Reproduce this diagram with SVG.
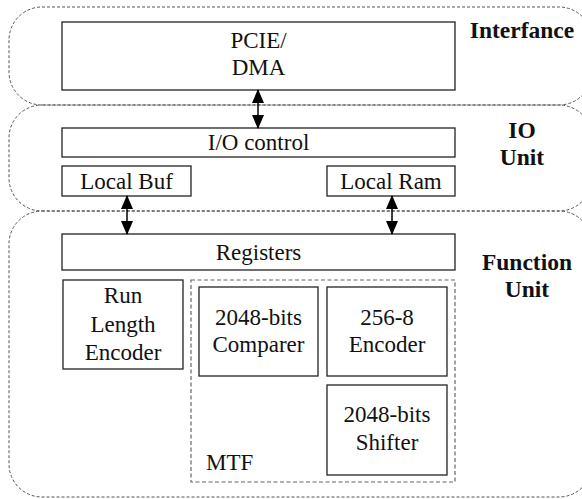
<svg xmlns="http://www.w3.org/2000/svg" width="582" height="499" viewBox="0 0 582 499">
<defs>
<style>
.region{fill:none;stroke:#555;stroke-width:1;stroke-dasharray:3,2}
.box{fill:#fff;stroke:#222;stroke-width:1.3}
.mtf{fill:none;stroke:#666;stroke-width:1.2;stroke-dasharray:4,2.5}
.t{font-size:23px;fill:#111;text-anchor:middle}
.lbl{font-size:23.5px;font-weight:bold;fill:#111;text-anchor:middle}
.conn{stroke:#000;stroke-width:1.5;fill:none;marker-start:url(#ah);marker-end:url(#ah)}
</style>
<marker id="ah" viewBox="0 0 14 12" refX="13" refY="6" markerWidth="14" markerHeight="12" markerUnits="userSpaceOnUse" orient="auto-start-reverse">
<path d="M0,0 L14,6 L0,12 Z" fill="#000"/>
</marker>
</defs>
<g id="regions">
<rect id="interface-region" class="region" x="9" y="7" width="583" height="98" rx="33" ry="33"/>
<rect id="io-region" class="region" x="9" y="105" width="583" height="106" rx="33" ry="33"/>
<rect id="function-region" class="region" x="9" y="211" width="583" height="286" rx="33" ry="33"/>
</g>
<g font-family="'Liberation Serif', 'Times New Roman', 'DejaVu Serif', serif">
<g id="region-labels">
<text class="lbl" x="522" y="38">Interfance</text>
<text class="lbl" x="522" y="138">IO</text>
<text class="lbl" x="522" y="165">Unit</text>
<text class="lbl" x="527" y="270">Function</text>
<text class="lbl" x="527" y="297">Unit</text>
</g>
<g id="pcie">
<rect class="box" x="62" y="22" width="393" height="68"/>
<text class="t" x="258.5" y="48">PCIE/</text>
<text class="t" x="258.5" y="75">DMA</text>
</g>
<g id="io-control">
<rect class="box" x="62" y="128" width="393" height="29"/>
<text class="t" x="258.5" y="150">I/O control</text>
</g>
<g id="local-buf">
<rect class="box" x="62" y="166" width="129" height="30"/>
<text class="t" x="126.5" y="189">Local Buf</text>
</g>
<g id="local-ram">
<rect class="box" x="327" y="166" width="128" height="30"/>
<text class="t" x="391" y="189">Local Ram</text>
</g>
<g id="registers">
<rect class="box" x="62" y="234" width="393" height="36"/>
<text class="t" x="258.5" y="260">Registers</text>
</g>
<g id="run-length-encoder">
<rect class="box" x="63" y="280" width="120" height="89"/>
<text class="t" x="123" y="303">Run</text>
<text class="t" x="123" y="332">Length</text>
<text class="t" x="123" y="360">Encoder</text>
</g>
<g id="mtf">
<rect class="mtf" x="191" y="280" width="264" height="202"/>
<text class="t" x="206" y="470" style="text-anchor:start">MTF</text>
</g>
<g id="comparer">
<rect class="box" x="199" y="287" width="119" height="89"/>
<text class="t" x="258.5" y="325">2048-bits</text>
<text class="t" x="258.5" y="352">Comparer</text>
</g>
<g id="encoder-256-8">
<rect class="box" x="327" y="287" width="120" height="89"/>
<text class="t" x="387" y="325">256-8</text>
<text class="t" x="387" y="352">Encoder</text>
</g>
<g id="shifter">
<rect class="box" x="327" y="385" width="120" height="90"/>
<text class="t" x="387" y="422">2048-bits</text>
<text class="t" x="387" y="450">Shifter</text>
</g>
</g>
<g id="connectors">
<line class="conn" x1="258" y1="90" x2="258" y2="128"/>
<line class="conn" x1="127" y1="196" x2="127" y2="234"/>
<line class="conn" x1="392" y1="196" x2="392" y2="234"/>
</g>
</svg>
